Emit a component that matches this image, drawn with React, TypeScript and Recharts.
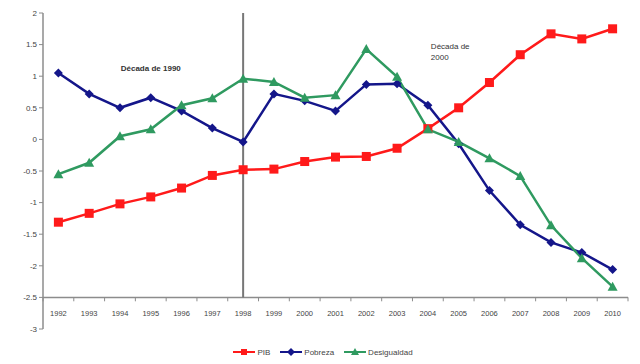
import React from "react"
import { LineChart, Line, XAxis, YAxis, ReferenceLine, ReferenceDot, Legend } from "recharts"

const years = ["1992", "1993", "1994", "1995", "1996", "1997", "1998", "1999", "2000", "2001", "2002", "2003", "2004", "2005", "2006", "2007", "2008", "2009", "2010"]
const pib = [-1.31, -1.17, -1.02, -0.91, -0.77, -0.57, -0.48, -0.47, -0.35, -0.28, -0.27, -0.14, 0.17, 0.5, 0.9, 1.34, 1.67, 1.59, 1.75]
const pobreza = [1.05, 0.72, 0.5, 0.66, 0.45, 0.18, -0.04, 0.72, 0.61, 0.45, 0.87, 0.88, 0.54, -0.07, -0.81, -1.35, -1.63, -1.79, -2.06]
const desigualdad = [-0.55, -0.37, 0.05, 0.16, 0.54, 0.65, 0.96, 0.91, 0.66, 0.7, 1.43, 0.99, 0.16, -0.04, -0.3, -0.58, -1.36, -1.88, -2.33]
const yTicks = [-3, -2.5, -2, -1.5, -1, -0.5, 0, 0.5, 1, 1.5, 2]

const data = years.map((year, i) => ({
  year,
  pib: pib[i],
  pobreza: pobreza[i],
  desigualdad: desigualdad[i],
}))

const RED = "#ff1a1a"
const BLUE = "#14168a"
const GREEN = "#2f9a60"
const AXIS = "#8c8c8c"
const FONT = "'Liberation Sans', Arial, sans-serif"

const Square = (props: any) => {
  const { cx, cy } = props
  if (cx == null || cy == null) return null
  return <rect x={cx - 4.5} y={cy - 4.5} width={9} height={9} fill={RED} />
}

const Diamond = (props: any) => {
  const { cx, cy } = props
  if (cx == null || cy == null) return null
  const s = 4.5
  return <path d={`M${cx},${cy - s}L${cx + s},${cy}L${cx},${cy + s}L${cx - s},${cy}Z`} fill={BLUE} />
}

const Triangle = (props: any) => {
  const { cx, cy } = props
  if (cx == null || cy == null) return null
  return <path d={`M${cx},${cy - 5}L${cx + 5},${cy + 4}L${cx - 5},${cy + 4}Z`} fill={GREEN} />
}

// the x axis sits at y = -2.5, so labels and tick marks are drawn above the plot bottom
const AXIS_UP = 31.7
const YearTick = (props: any) => {
  const { x, y, payload } = props
  const half = payload && payload.offset ? payload.offset : 15.4
  return (
    <g>
      <line x1={x - half} x2={x - half} y1={y - AXIS_UP} y2={y - AXIS_UP + 4} stroke={AXIS} strokeWidth={1} />
      {payload.index === years.length - 1 && (
        <line x1={x + half} x2={x + half} y1={y - AXIS_UP} y2={y - AXIS_UP + 4} stroke={AXIS} strokeWidth={1} />
      )}
      <text x={x} y={y - AXIS_UP + 19} textAnchor="middle" fontSize={7.5} fill="#444" fontFamily={FONT}>
        {payload.value}
      </text>
    </g>
  )
}

const legendItems = [
  { name: "PIB", color: RED, shape: "square" },
  { name: "Pobreza", color: BLUE, shape: "diamond" },
  { name: "Desigualdad", color: GREEN, shape: "triangle" },
]

const LegendContent = () => (
  <div style={{ display: "flex", justifyContent: "center", gap: 10, fontFamily: FONT, fontSize: 8, color: "#444", paddingLeft: 10 }}>
    {legendItems.map((it) => (
      <div key={it.name} style={{ display: "flex", alignItems: "center", gap: 2 }}>
        <svg width={22} height={10}>
          <line x1={0} x2={22} y1={5} y2={5} stroke={it.color} strokeWidth={2} />
          {it.shape === "square" && <rect x={8} y={2} width={6} height={6} fill={it.color} />}
          {it.shape === "diamond" && <path d="M11,1L15,5L11,9L7,5Z" fill={it.color} />}
          {it.shape === "triangle" && <path d="M11,1L15,8L7,8Z" fill={it.color} />}
        </svg>
        <span>{it.name}</span>
      </div>
    ))}
  </div>
)

const Decade1990 = (props: any) => {
  const { viewBox } = props
  return (
    <text x={viewBox.x} y={viewBox.y + 3} textAnchor="middle" fontSize={8} fontWeight="bold" fill="#333" fontFamily={FONT}>
      Década de 1990
    </text>
  )
}

const Decade2000 = (props: any) => {
  const { viewBox } = props
  return (
    <text x={viewBox.x + 3} y={viewBox.y - 3} fontSize={8} fill="#333" fontFamily={FONT}>
      <tspan x={viewBox.x + 3}>Década de</tspan>
      <tspan x={viewBox.x + 3} dy={11}>2000</tspan>
    </text>
  )
}

export default function App() {
  return (
    <LineChart width={624} height={356} data={data} margin={{ top: 5, right: 4, left: 0, bottom: 3 }}>
      <XAxis
        dataKey="year"
        scale="band"
        height={18}
        axisLine={false}
        tickLine={false}
        tickSize={0}
        tickMargin={0}
        interval={0}
        tick={<YearTick />}
      />
      <YAxis
        width={35}
        domain={[-3, 2]}
        ticks={yTicks}
        interval={0}
        axisLine={{ stroke: AXIS, strokeWidth: 1.5 }}
        tickLine={{ stroke: AXIS }}
        tickSize={4}
        tick={{ fontSize: 8, fill: "#444", fontFamily: FONT }}
      />
      <ReferenceLine y={-2.5} stroke={AXIS} strokeWidth={1.5} />
      <ReferenceLine segment={[{ x: "1998", y: 2 }, { x: "1998", y: -2.5 }]} stroke="#777" strokeWidth={2} />
      <ReferenceDot x="1995" y={1.13} r={0} fill="none" stroke="none" label={<Decade1990 />} />
      <ReferenceDot x="2004" y={1.38} r={0} fill="none" stroke="none" label={<Decade2000 />} />
      <Line dataKey="pib" name="PIB" stroke={RED} strokeWidth={2.5} dot={<Square />} activeDot={false} isAnimationActive={false} />
      <Line dataKey="pobreza" name="Pobreza" stroke={BLUE} strokeWidth={2.5} dot={<Diamond />} activeDot={false} isAnimationActive={false} />
      <Line dataKey="desigualdad" name="Desigualdad" stroke={GREEN} strokeWidth={2.5} dot={<Triangle />} activeDot={false} isAnimationActive={false} />
      <Legend verticalAlign="bottom" height={14} content={<LegendContent />} />
    </LineChart>
  )
}
